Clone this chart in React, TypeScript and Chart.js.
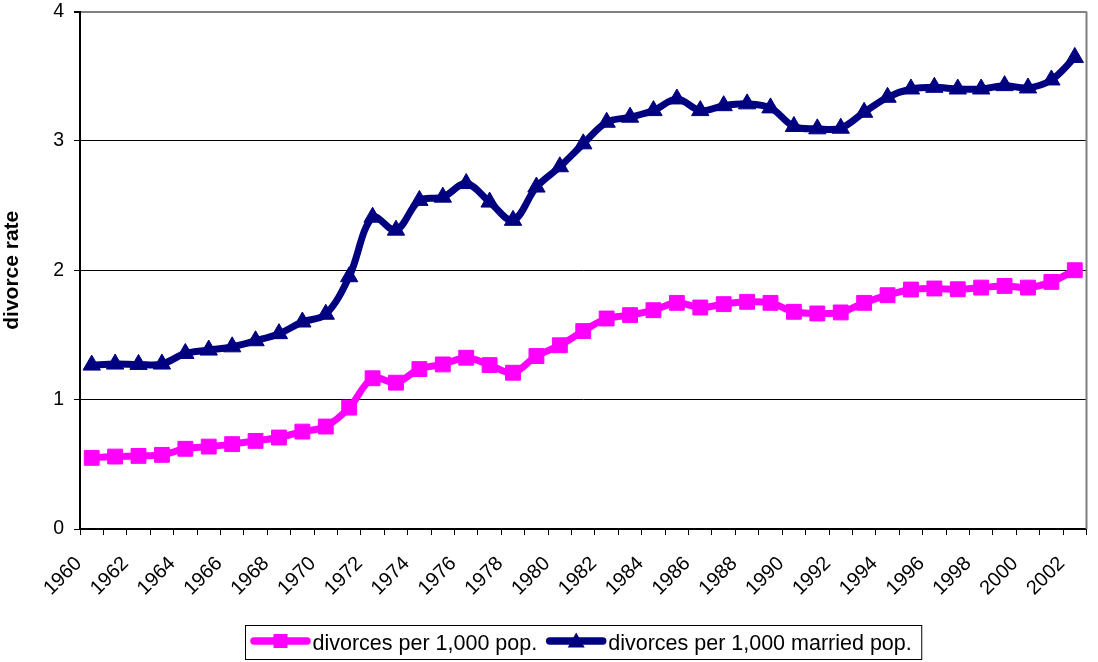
import React, { useEffect, useRef } from 'react';
import { Chart, registerables } from 'chart.js';

Chart.register(...registerables);

const years: string[] = [
  '1960','1961','1962','1963','1964','1965','1966','1967','1968','1969',
  '1970','1971','1972','1973','1974','1975','1976','1977','1978','1979',
  '1980','1981','1982','1983','1984','1985','1986','1987','1988','1989',
  '1990','1991','1992','1993','1994','1995','1996','1997','1998','1999',
  '2000','2001','2002',
];

const perPop: number[] = [
  0.55, 0.56, 0.565, 0.573, 0.62, 0.637, 0.656, 0.681, 0.707, 0.753,
  0.792, 0.938, 1.165, 1.131, 1.236, 1.272, 1.324, 1.267, 1.208, 1.337,
  1.42, 1.53, 1.627, 1.653, 1.691, 1.748, 1.712, 1.738, 1.756, 1.748,
  1.679, 1.666, 1.674, 1.748, 1.807, 1.851, 1.859, 1.853, 1.866, 1.879,
  1.866, 1.91, 2.0,
];

const perMarried: number[] = [
  1.267, 1.275, 1.272, 1.275, 1.357, 1.383, 1.408, 1.455, 1.51, 1.6,
  1.66, 1.95, 2.41, 2.31, 2.54, 2.565, 2.67, 2.527, 2.386, 2.643,
  2.8, 2.977, 3.144, 3.183, 3.234, 3.324, 3.234, 3.272, 3.286, 3.255,
  3.111, 3.093, 3.098, 3.221, 3.337, 3.401, 3.414, 3.401, 3.401, 3.427,
  3.409, 3.471, 3.645,
];

const seriesLabels: string[] = ['divorces per 1,000 pop.', 'divorces per 1,000 married pop.'];
const seriesColors: string[] = ['#FF00FF', '#000080'];
const yTicks: number[] = [0, 1, 2, 3, 4];

const FONT = '"Liberation Sans", Arial, sans-serif';

const framePlugin = {
  id: 'frame',
  beforeDatasetsDraw(chart: any) {
    const { ctx, chartArea } = chart;
    ctx.save();
    ctx.strokeStyle = '#808080';
    ctx.lineWidth = 2;
    ctx.beginPath();
    ctx.moveTo(chartArea.right, chartArea.top);
    ctx.lineTo(chartArea.right, chartArea.bottom);
    ctx.stroke();
    ctx.restore();
  },
};

function drawMarker(ctx: CanvasRenderingContext2D, style: string, x: number, y: number, color: string) {
  ctx.fillStyle = color;
  ctx.beginPath();
  if (style === 'rect') {
    ctx.rect(x - 7, y - 7, 14, 14);
  } else {
    ctx.moveTo(x, y - 8.5);
    ctx.lineTo(x + 8.5, y + 6.5);
    ctx.lineTo(x - 8.5, y + 6.5);
    ctx.closePath();
  }
  ctx.fill();
}

const legendPlugin = {
  id: 'boxLegend',
  afterDraw(chart: any) {
    const { ctx, chartArea } = chart;
    ctx.save();
    ctx.font = `21.5px ${FONT}`;
    const sample = 60;
    const gapText = 2;
    const gapItem = 9;
    const padL = 5;
    const padR = 10;
    const items = chart.data.datasets.map((ds: any) => ({
      label: ds.label,
      color: ds.borderColor,
      style: ds.pointStyle,
      w: ctx.measureText(ds.label).width,
    }));
    let total = padL + padR + gapItem * (items.length - 1);
    items.forEach((it: any) => { total += sample + gapText + it.w; });
    const cx = (chartArea.left + chartArea.right) / 2;
    const x0 = Math.round(cx - total / 2) + 0.5;
    const top = chart.height - 36.5;
    const h = 34;
    ctx.strokeStyle = '#000';
    ctx.lineWidth = 1;
    ctx.strokeRect(x0, top, total, h);
    let x = x0 + padL;
    const ly = top + 15.5;
    items.forEach((it: any) => {
      ctx.strokeStyle = it.color;
      ctx.lineWidth = 7.5;
      ctx.lineCap = 'round';
      ctx.beginPath();
      ctx.moveTo(x + 3.5, ly);
      ctx.lineTo(x + sample - 3.5, ly);
      ctx.stroke();
      drawMarker(ctx, it.style, x + sample / 2, ly, it.color);
      ctx.fillStyle = '#000';
      ctx.textBaseline = 'alphabetic';
      ctx.textAlign = 'left';
      ctx.fillText(it.label, x + sample + gapText, top + 24.5);
      x += sample + gapText + it.w + gapItem;
    });
    ctx.restore();
  },
};

export default function App() {
  const canvasRef = useRef<HTMLCanvasElement | null>(null);

  useEffect(() => {
    document.body.style.margin = '0';
    const canvas = canvasRef.current;
    if (!canvas) return;
    Chart.defaults.font.family = FONT;
    Chart.defaults.color = '#000';
    const chart = new Chart(canvas, {
      type: 'line',
      data: {
        labels: years,
        datasets: [
          {
            label: seriesLabels[0],
            data: perPop,
            borderColor: seriesColors[0],
            backgroundColor: seriesColors[0],
            borderWidth: 7,
            pointStyle: 'rect',
            pointRadius: 10.5,
            pointBorderWidth: 1,
            pointBackgroundColor: seriesColors[0],
            pointBorderColor: seriesColors[0],
            tension: 0.35,
            fill: false,
          },
          {
            label: seriesLabels[1],
            data: perMarried,
            borderColor: seriesColors[1],
            backgroundColor: seriesColors[1],
            borderWidth: 7,
            pointStyle: 'triangle',
            pointRadius: 10,
            pointBorderWidth: 1,
            pointBackgroundColor: seriesColors[1],
            pointBorderColor: seriesColors[1],
            tension: 0.35,
            fill: false,
          },
        ],
      },
      options: {
        responsive: false,
        animation: false,
        layout: { padding: { top: 11, right: 2, bottom: 0, left: 0 } },
        plugins: {
          legend: { display: false },
          tooltip: { enabled: false },
        },
        scales: {
          x: {
            type: 'category',
            offset: true,
            afterFit: (scale: any) => {
              scale.height = 133;
              scale.paddingLeft = 0;
              scale.paddingRight = 0;
            },
            grid: {
              display: true,
              offset: true,
              drawOnChartArea: false,
              drawTicks: true,
              tickLength: 6,
              tickColor: '#000',
              tickWidth: 1,
            },
            border: { display: true, color: '#000', width: 2 },
            ticks: {
              autoSkip: false,
              minRotation: 45,
              maxRotation: 45,
              padding: 17,
              labelOffset: -13,
              font: { size: 20 },
              color: '#000',
              callback: (_v: any, i: number) => (i % 2 === 0 ? years[i] : ''),
            },
          },
          y: {
            min: yTicks[0],
            max: yTicks[yTicks.length - 1],
            afterFit: (scale: any) => {
              scale.width = 80;
              scale.paddingTop = 0;
              scale.paddingBottom = 0;
            },
            afterBuildTicks: (scale: any) => { scale.ticks = yTicks.map((v) => ({ value: v })); },
            grid: {
              color: (c: any) => (c.tick && c.tick.value === 4 ? '#808080' : '#000'),
              lineWidth: (c: any) => (c.tick && c.tick.value === 4 ? 2 : 1),
              tickColor: '#000',
              tickLength: 6,
              drawTicks: true,
            },
            border: { display: true, color: '#000', width: 2 },
            ticks: {
              padding: 10,
              font: { size: 19.5 },
              color: '#000',
            },
            title: {
              display: true,
              text: 'divorce rate',
              font: { size: 21, weight: 'bold' },
              color: '#000',
              padding: 0,
            },
          },
        },
      },
      plugins: [framePlugin, legendPlugin],
    } as any);
    return () => chart.destroy();
  }, []);

  return (
    <div style={{ width: 1098, height: 662 }}>
      <canvas ref={canvasRef} width={1098} height={662} />
    </div>
  );
}
